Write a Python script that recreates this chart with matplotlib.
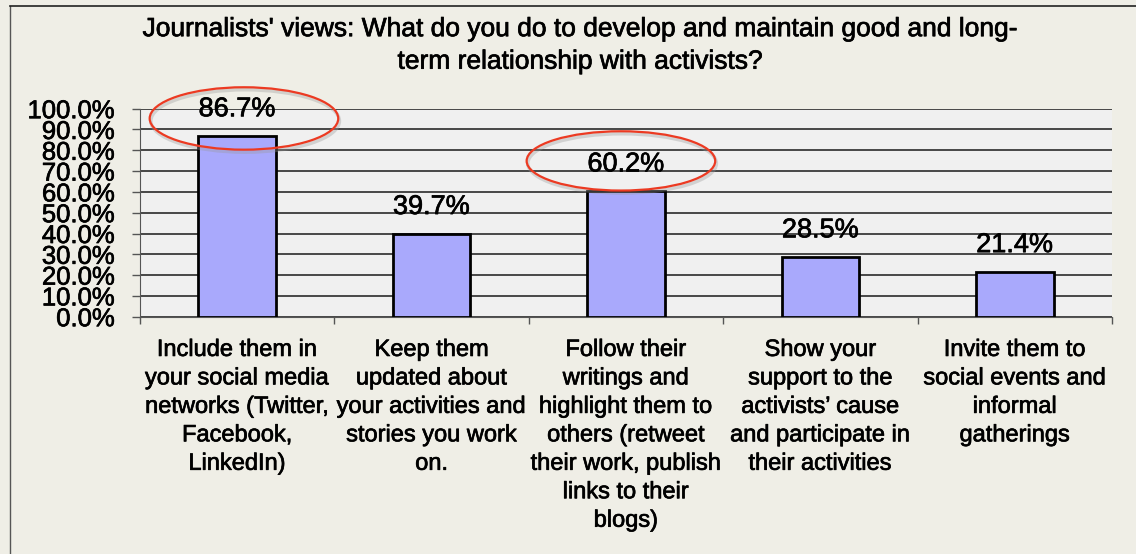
import numpy as np
import matplotlib.pyplot as plt
import matplotlib.patheffects as pe
from matplotlib.patches import Ellipse
from matplotlib.lines import Line2D
from matplotlib.ticker import PercentFormatter

plt.rcParams['font.family'] = ['Liberation Sans', 'DejaVu Sans']

# Survey answers and shares of journalists
categories = [
    "Include them in\nyour social media\nnetworks (Twitter,\nFacebook,\nLinkedIn)",
    "Keep them\nupdated about\nyour activities and\nstories you work\non.",
    "Follow their\nwritings and\nhighlight them to\nothers (retweet\ntheir work, publish\nlinks to their\nblogs)",
    "Show your\nsupport to the\nactivists\u2019 cause\nand participate in\ntheir activities",
    "Invite them to\nsocial events and\ninformal\ngatherings",
]
shares = [0.867, 0.397, 0.602, 0.285, 0.214]
highlighted = [0, 2]

title = ("Journalists' views: What do you do to develop and maintain good and long-\n"
         "term relationship with activists?")

# slightly heavier strokes for all text
heavy = [pe.withStroke(linewidth=0.5, foreground='black')]

fig = plt.figure(figsize=(11.36, 5.54), dpi=100)
fig.patch.set_facecolor('#efeee6')
ax = fig.add_axes([0.1232, 0.4283, 0.8557, 0.3755])
ax.set_facecolor('#f0f0f0')

x = np.arange(len(shares))
ax.bar(x, shares, width=0.4, color='#a9a9fc', edgecolor='black', linewidth=2, zorder=3)

ax.set_xlim(-0.5, len(shares) - 0.5)
ax.set_ylim(0, 1)
ax.set_yticks(np.arange(0, 1.01, 0.1))
ax.yaxis.set_major_formatter(PercentFormatter(xmax=1, decimals=1))
ax.grid(axis='y', color='#2a2a2a', linewidth=1.2, zorder=1)
ax.tick_params(axis='y', length=6, width=1, color='#555555', labelsize=18.5, pad=12)

# separators between categories, labels in the middle
ax.set_xticks(np.arange(-0.5, len(shares), 1.0))
ax.set_xticklabels([])
ax.tick_params(axis='x', which='major', length=5, width=1, color='#555555')
ax.set_xticks(x, minor=True)
ax.set_xticklabels(categories, minor=True, fontsize=17, linespacing=1.38)
ax.tick_params(axis='x', which='minor', length=0, pad=16)

for lbl in ax.get_yticklabels() + ax.get_xticklabels(minor=True):
    lbl.set_path_effects(heavy)

for side in ('top', 'right'):
    ax.spines[side].set_visible(False)
for side in ('left', 'bottom'):
    ax.spines[side].set_color('#555555')

for xi, v in zip(x, shares):
    ax.annotate(f"{v * 100:.1f}%", (xi, v), xytext=(0, 19.5), textcoords='offset points',
                ha='center', va='center', fontsize=19.5, zorder=5, path_effects=heavy)

# red rings around the two answers of interest
ring_geom = {0: (0.035, 0.086, 0.30), 2: (-0.026, 0.147, 0.285)}
for i in highlighted:
    dx, dy, h = ring_geom[i]
    cx, cy = x[i] + dx, shares[i] + dy
    shadow = Ellipse((cx + 0.006, cy - 0.012), 0.97, h, fill=False,
                     edgecolor='#999999', linewidth=2.5, alpha=0.35, clip_on=False, zorder=5)
    ring = Ellipse((cx, cy), 0.97, h, fill=False, edgecolor='#ec3a22',
                   linewidth=1.6, clip_on=False, zorder=6)
    ax.add_patch(shadow)
    ax.add_patch(ring)

fig.text(0.511, 0.918, title, ha='center', va='center', fontsize=19, linespacing=1.45,
         path_effects=heavy)

# frame around the chart
fig.add_artist(Line2D([0.0088, 0.0088], [0.0, 0.9892], color='#555555', linewidth=1))
fig.add_artist(Line2D([0.0088, 1.0], [0.9892, 0.9892], color='#222222', linewidth=1.2))

fig.savefig('out.png', dpi=100, facecolor=fig.get_facecolor())
